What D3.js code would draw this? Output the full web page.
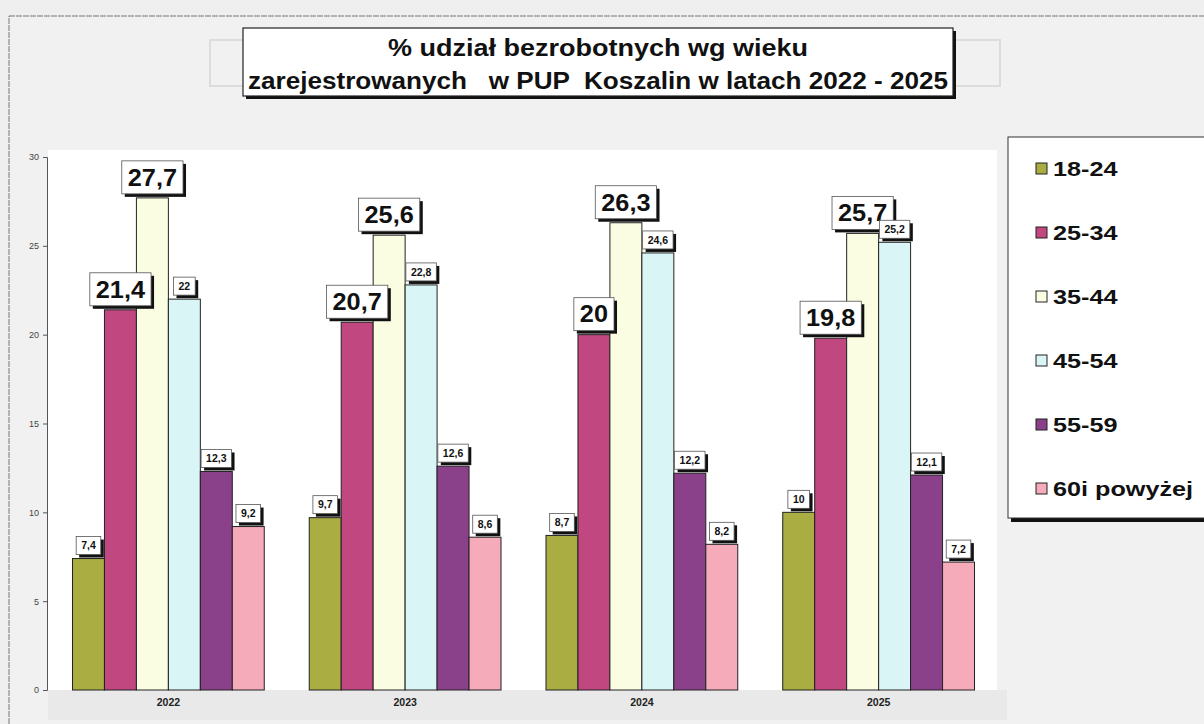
<!DOCTYPE html>
<html><head><meta charset="utf-8">
<script src="https://cdn.jsdelivr.net/npm/d3@7"></script>
<style>body{margin:0;background:#efefef;}svg{display:block;font-family:"Liberation Sans",Arial,sans-serif;}</style>
</head><body>
<svg id="c" width="1204" height="724"></svg>
<script>
const years = ["2022","2023","2024","2025"];
const series = ["18-24","25-34","35-44","45-54","55-59","60i powyżej"];
const colors = ["#a9ad42","#c0477f","#fbfde3","#daf5f5","#8b4189","#f6abbb"];
const values = {
  "18-24":[7.4,9.7,8.7,10],
  "25-34":[21.4,20.7,20,19.8],
  "35-44":[27.7,25.6,26.3,25.7],
  "45-54":[22,22.8,24.6,25.2],
  "55-59":[12.3,12.6,12.2,12.1],
  "60i powyżej":[9.2,8.6,8.2,7.2]
};
const bigLabelSeries = ["25-34","35-44"];
const yTicks = [0,5,10,15,20,25,30];
const titleLines = ["% udział bezrobotnych wg wieku","zarejestrowanych   w PUP  Koszalin w latach 2022 - 2025"];

const svg = d3.select("#c");
const fmt = v => String(v).replace(".", ",");

// page background & border
svg.append("rect").attr("width",1204).attr("height",724).attr("fill","#efefef");
svg.append("rect").attr("x",9).attr("y",16).attr("width",1220).attr("height",730)
  .attr("fill","#f1f1f1").attr("stroke","#777").attr("stroke-width",1).attr("stroke-dasharray","6,1");
// faint ghost box behind the title
svg.append("rect").attr("x",210).attr("y",40).attr("width",790).attr("height",46)
  .attr("fill","none").attr("stroke","#dcdcdc").attr("stroke-width",2);

const plotL = 48, plotR = 997, plotT = 150, plotB = 690;
svg.append("rect").attr("x",plotL).attr("y",plotT).attr("width",plotR-plotL).attr("height",plotB-plotT).attr("fill","#ffffff");
svg.append("rect").attr("x",plotL).attr("y",plotB).attr("width",plotR-plotL+10).attr("height",30).attr("fill","#e9e9e9");

const x0 = d3.scaleBand().domain(years).range([50,997]).paddingInner(0.19).paddingOuter(0.095);
const x1 = d3.scaleBand().domain(series).range([0,x0.bandwidth()]);
const y = d3.scaleLinear().domain([0,30]).range([690,157]);

// y axis
const yAxis = d3.axisLeft(y).tickValues(yTicks).tickSize(4).tickPadding(4);
const ga = svg.append("g").attr("transform",`translate(47,0)`).call(yAxis);
ga.select(".domain").attr("stroke","#555");
ga.selectAll(".tick line").attr("stroke","#555");
ga.selectAll("text").attr("font-size",9).attr("fill","#444").attr("font-family","Liberation Sans, Arial");

// x axis labels
const xAxis = d3.axisBottom(x0).tickSize(0).tickPadding(9);
const gx = svg.append("g").attr("transform",`translate(0,${plotB})`).call(xAxis);
gx.select(".domain").remove();
gx.selectAll("text").attr("font-size",10.5).attr("font-weight","bold").attr("fill","#222").attr("font-family","Liberation Sans, Arial");

// bars
const groups = svg.append("g").selectAll("g").data(years).join("g")
  .attr("transform", d => `translate(${x0(d)},0)`);
groups.selectAll("rect").data((yr,i) => series.map((s,j) => ({s, j, v: values[s][i]}))).join("rect")
  .attr("x", d => x1(d.s)).attr("width", x1.bandwidth())
  .attr("y", d => y(d.v)).attr("height", d => y(0)-y(d.v))
  .attr("fill", d => colors[d.j]).attr("stroke","#222").attr("stroke-width",1);

// labels
const labG = svg.append("g");
years.forEach((yr,i) => {
  series.forEach((s,j) => {
    const v = values[s][i];
    const big = bigLabelSeries.includes(s);
    const fs = big ? 23 : 10.5;
    const cx = x0(yr) + x1(s) + x1.bandwidth()/2;
    const g = labG.append("g");
    const t = g.append("text").text(fmt(v)).attr("font-size",fs).attr("font-weight","bold")
      .attr("fill","#111").attr("text-anchor","middle");
    const nat = t.node().getComputedTextLength();
    if (big) t.attr("textLength", nat*1.1).attr("lengthAdjust","spacingAndGlyphs");
    const w = nat*(big?1.1:1) + (big ? 12 : 10);
    const h = big ? 33 : 18;
    const bottom = y(v) - 4;
    g.insert("rect","text").attr("x",cx-w/2+3).attr("y",bottom-h+3).attr("width",w).attr("height",h).attr("fill","#111");
    g.insert("rect","text").attr("x",cx-w/2).attr("y",bottom-h).attr("width",w).attr("height",h)
      .attr("fill","#fff").attr("stroke","#555").attr("stroke-width",0.8);
    t.attr("x",cx).attr("y",bottom - h/2 + fs*0.36);
  });
});

// title
const tg = svg.append("g");
tg.append("rect").attr("x",246).attr("y",31).attr("width",710).attr("height",68).attr("fill","#111");
tg.append("rect").attr("x",243).attr("y",28).attr("width",710).attr("height",68).attr("fill","#fff").attr("stroke","#222").attr("stroke-width",1.2);
const titleWidths = [420, 700];
tg.selectAll("text").data(titleLines).join("text")
  .attr("x",598).attr("y",(d,i)=> i===0 ? 56 : 89)
  .attr("text-anchor","middle").attr("font-size",23).attr("font-weight","bold").attr("fill","#111")
  .style("white-space","pre").attr("xml:space","preserve")
  .attr("textLength",(d,i)=>titleWidths[i]).attr("lengthAdjust","spacingAndGlyphs")
  .text(d=>d);

// legend
const lg = svg.append("g");
lg.append("rect").attr("x",1011).attr("y",141).attr("width",220).attr("height",381).attr("fill","#111");
lg.append("rect").attr("x",1008).attr("y",137).attr("width",220).attr("height",381).attr("fill","#fff").attr("stroke","#333").attr("stroke-width",1);
const li = lg.selectAll("g").data(series).join("g")
  .attr("transform",(d,i)=>`translate(1036,${168 + i*64})`);
li.append("rect").attr("x",0).attr("y",-5).attr("width",11).attr("height",11)
  .attr("fill",(d,i)=>colors[i]).attr("stroke","#222").attr("stroke-width",1);
li.append("text").attr("x",17).attr("y",7.5).attr("font-size",21).attr("font-weight","bold").attr("fill","#111").text(d=>d)
  .each(function(){ const n = this.getComputedTextLength(); d3.select(this).attr("textLength", n*1.2).attr("lengthAdjust","spacingAndGlyphs"); });
</script>
</body></html>
